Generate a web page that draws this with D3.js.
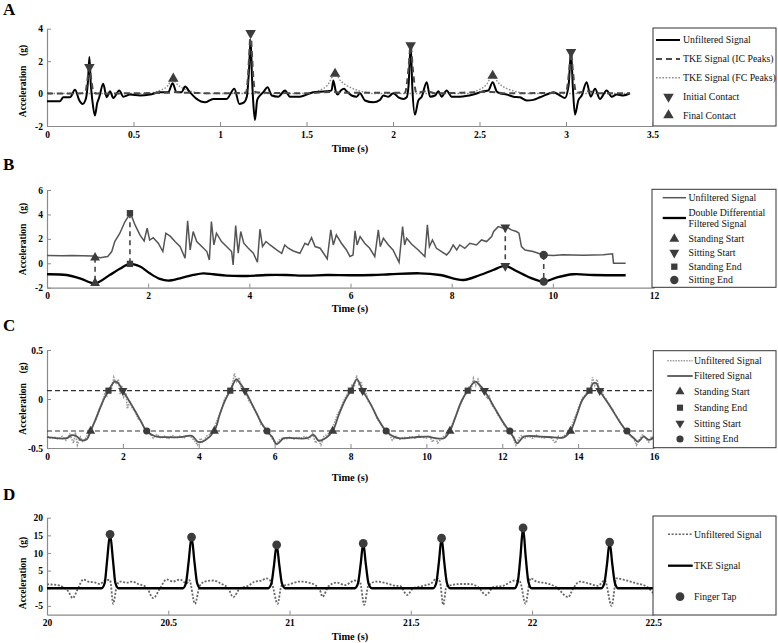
<!DOCTYPE html>
<html><head><meta charset="utf-8">
<script src="https://cdn.jsdelivr.net/npm/d3@7"></script>
<style>
body{margin:0;background:#fff;}
svg text{font-family:"Liberation Serif","Times New Roman","DejaVu Serif",serif !important;}
</style></head><body>
<svg id="c" width="778" height="643" font-family="Liberation Serif, Times New Roman, serif"></svg>
<script>
// ---------------- DATA ----------------
// Panel A
const aXTicks = [0,0.5,1,1.5,2,2.5,3,3.5];
const aYTicks = [-2,0,2,4];
const aUnfiltered = [[0.00,-0.47],[0.075,-0.47],[0.094,-0.23],[0.133,-0.23],[0.162,0.23],[0.187,-0.43],[0.206,-0.64],[0.225,-0.3],[0.237,0.8],[0.245,2.25],[0.253,0.6],[0.263,-0.5],[0.277,-1.36],[0.29,-0.6],[0.302,-0.23],[0.325,0.6],[0.345,-0.23],[0.364,0.14],[0.383,-0.27],[0.418,0.19],[0.441,-0.19],[0.480,-0.06],[0.538,-0.12],[0.595,-0.06],[0.653,0.08],[0.701,0.08],[0.726,0.64],[0.749,0.08],[0.778,0.08],[0.798,0.43],[0.826,0.08],[0.865,-0.33],[0.913,-0.54],[0.961,-0.33],[1.038,-0.33],[1.083,0.29],[1.112,-0.64],[1.139,-0.54],[1.155,-0.2],[1.168,1.5],[1.177,3.3],[1.185,1.0],[1.192,-0.5],[1.202,-1.63],[1.215,-0.4],[1.231,-0.12],[1.250,0.08],[1.275,0.39],[1.299,-0.12],[1.337,-0.19],[1.376,0.19],[1.404,-0.19],[1.462,-0.19],[1.539,0.08],[1.616,0.14],[1.645,0.2],[1.655,0.8],[1.67,0.1],[1.680,-0.06],[1.700,0.2],[1.717,0.29],[1.732,0.14],[1.761,-0.12],[1.790,-0.19],[1.809,0.02],[1.838,-0.43],[1.886,-0.54],[1.925,-0.39],[1.944,-0.12],[1.973,-0.19],[2.002,0.02],[2.031,-0.23],[2.060,-0.33],[2.079,-0.23],[2.090,0.5],[2.102,2.97],[2.112,0.3],[2.127,-1.3],[2.146,-0.43],[2.166,-0.19],[2.195,0.7],[2.214,-0.19],[2.243,-0.12],[2.262,0.14],[2.281,-0.19],[2.310,0.19],[2.339,-0.19],[2.387,-0.19],[2.464,-0.06],[2.522,0.14],[2.551,0.19],[2.576,0.7],[2.599,0.14],[2.618,0.02],[2.657,-0.06],[2.696,-0.19],[2.734,-0.23],[2.773,-0.43],[2.811,-0.39],[2.850,-0.23],[2.888,-0.06],[2.927,0.08],[2.965,-0.12],[2.994,-0.27],[3.015,0.5],[3.029,2.56],[3.04,0.3],[3.052,-1.3],[3.071,-0.43],[3.091,-0.12],[3.119,0.7],[3.143,-0.19],[3.168,0.29],[3.196,-0.33],[3.235,0.19],[3.264,-0.19],[3.293,-0.06],[3.331,-0.12],[3.370,0.02]];
const aTkeIC = [[0,0.02],[0.1,0.0],[0.2,0.02],[0.222,0.1],[0.232,0.7],[0.245,1.63],[0.258,0.7],[0.268,0.1],[0.29,0.0],[0.5,0.02],[0.7,0.05],[0.75,0.1],[0.8,0.05],[1.0,0.02],[1.15,0.05],[1.16,0.8],[1.168,2.2],[1.177,3.73],[1.186,2.2],[1.194,0.8],[1.205,0.1],[1.25,0.05],[1.5,0.02],[1.65,0.1],[1.7,0.05],[2.07,0.05],[2.08,0.6],[2.09,1.6],[2.102,2.97],[2.114,1.6],[2.124,0.6],[2.135,0.05],[2.19,0.15],[2.25,0.02],[2.57,0.1],[2.65,0.02],[3.0,0.05],[3.01,0.6],[3.019,1.5],[3.029,2.56],[3.039,1.5],[3.048,0.6],[3.06,0.05],[3.12,0.15],[3.2,0.02],[3.37,0.02]];
const aTkeFC = [[0,0],[0.58,0],[0.62,0.08],[0.66,0.22],[0.70,0.5],[0.726,0.92],[0.75,0.6],[0.79,0.3],[0.84,0.12],[0.9,0.02],[0.95,0],[1.50,0],[1.54,0.08],[1.58,0.22],[1.62,0.5],[1.665,1.2],[1.70,0.75],[1.74,0.45],[1.79,0.22],[1.84,0.08],[1.89,0],[2.42,0],[2.46,0.08],[2.50,0.25],[2.54,0.55],[2.576,1.1],[2.61,0.65],[2.65,0.35],[2.70,0.15],[2.75,0.04],[2.80,0],[3.37,0]];
const aInitialContact = [[0.245,1.63],[1.177,3.73],[2.102,2.97],[3.029,2.56]];
const aFinalContact = [[0.73,0.92],[1.665,1.22],[2.576,1.1]];

// Panel B
const bXTicks = [0,2,4,6,8,10,12];
const bYTicks = [-2,0,2,4,6];
const bUnfiltered = [[0,0.63],[0.3,0.62],[0.5,0.63],[0.7,0.61],[0.9,0.6],[1.05,0.46],[1.2,0.55],[1.28,0.96],[1.34,1.78],[1.44,2.46],[1.54,3.4],[1.65,4.1],[1.74,3.14],[1.84,2.3],[1.92,1.83],[1.98,2.87],[2.03,1.9],[2.10,2.1],[2.20,1.64],[2.29,0.96],[2.35,2.46],[2.44,2.2],[2.53,1.78],[2.63,1.37],[2.73,0.41],[2.78,3.47],[2.83,1.09],[2.89,2.6],[2.96,1.78],[3.06,1.37],[3.16,0.96],[3.21,0.27],[3.25,3.42],[3.30,1.5],[3.35,2.46],[3.45,1.78],[3.55,1.37],[3.65,0.96],[3.68,-0.14],[3.73,3.09],[3.78,0.82],[3.83,2.6],[3.89,1.64],[3.98,1.23],[4.08,0.82],[4.16,0.08],[4.21,2.79],[4.26,1.37],[4.33,1.78],[4.41,1.5],[4.54,1.09],[4.64,0.82],[4.70,1.5],[4.77,1.23],[4.87,1.01],[5.0,0.82],[5.1,1.64],[5.16,1.5],[5.23,2.1],[5.30,1.37],[5.40,1.23],[5.49,0.68],[5.54,0.36],[5.61,2.73],[5.66,1.5],[5.72,2.32],[5.82,1.64],[5.92,1.09],[5.99,0.55],[6.05,0.68],[6.09,2.65],[6.13,1.5],[6.19,2.19],[6.28,1.64],[6.38,1.23],[6.48,0.55],[6.55,2.73],[6.59,1.37],[6.65,2.05],[6.75,1.5],[6.84,1.09],[6.96,0.08],[7.03,3.0],[7.07,1.5],[7.11,2.05],[7.21,1.56],[7.34,1.09],[7.47,0.55],[7.52,3.14],[7.56,1.37],[7.62,1.91],[7.70,1.23],[7.80,0.96],[7.90,0.68],[7.96,0.96],[8.03,1.5],[8.10,1.09],[8.16,1.5],[8.26,1.23],[8.36,1.64],[8.49,1.5],[8.59,1.91],[8.69,1.78],[8.79,2.19],[8.83,2.6],[8.92,3.0],[9.02,2.87],[9.08,3.0],[9.18,2.73],[9.28,2.6],[9.33,2.46],[9.38,1.37],[9.45,1.09],[9.61,0.96],[9.81,0.68],[10.01,0.63],[10.2,0.7],[10.4,0.68],[10.6,0.66],[10.8,0.68],[11.0,0.7],[11.18,0.77],[11.2,0.0],[11.44,0.0]];
const bFiltered = [[0,-0.9],[0.39,-0.96],[0.65,-1.23],[0.95,-1.64],[1.24,-0.96],[1.44,-0.45],[1.64,-0.05],[1.84,-0.27],[2.03,-0.82],[2.23,-1.28],[2.4,-1.42],[2.63,-1.23],[2.89,-0.96],[3.09,-0.82],[3.29,-0.9],[3.55,-1.01],[3.95,-1.04],[4.34,-0.96],[4.74,-0.96],[5.13,-1.01],[5.53,-0.96],[5.99,-0.98],[6.45,-0.96],[6.78,-0.9],[7.37,-0.82],[7.77,-0.96],[8.23,-1.37],[8.56,-0.96],[8.82,-0.55],[9.06,-0.22],[9.28,-0.63],[9.55,-1.17],[9.82,-1.5],[10.07,-1.17],[10.4,-0.9],[10.8,-0.96],[11.44,-0.98]];
// [time, value on unfiltered, value on filtered]
const bStandingStart = [[0.95,0.45,-1.62]];
const bStandingEnd = [[1.64,4.1,-0.05]];
const bSittingStart = [[9.06,2.95,-0.22]];
const bSittingEnd = [[9.82,0.68,-1.5]];

// Panel C
const cXTicks = [0,2,4,6,8,10,12,14,16];
const cYTicks = [-0.5,0,0.5];
const cThresholds = [0.085,-0.327];
const cFiltered = [[0,-0.39],[0.52,-0.4],[0.65,-0.37],[0.78,-0.38],[0.9,-0.42],[1.05,-0.41],[1.15,-0.327],[1.31,-0.18],[1.49,-0.01],[1.62,0.085],[1.79,0.18],[1.88,0.16],[2.0,0.085],[2.23,-0.06],[2.45,-0.21],[2.63,-0.327],[2.85,-0.38],[3.16,-0.39],[3.51,-0.39],[3.82,-0.377],[3.99,-0.44],[4.17,-0.42],[4.41,-0.327],[4.56,-0.15],[4.70,-0.01],[4.83,0.085],[4.99,0.2],[5.09,0.16],[5.22,0.085],[5.44,-0.08],[5.66,-0.25],[5.80,-0.327],[5.93,-0.384],[6.06,-0.46],[6.24,-0.40],[6.5,-0.40],[6.85,-0.40],[7.03,-0.367],[7.16,-0.425],[7.34,-0.40],[7.53,-0.327],[7.69,-0.163],[7.86,-0.01],[8.01,0.085],[8.17,0.2],[8.32,0.085],[8.52,-0.044],[8.74,-0.214],[8.94,-0.327],[9.14,-0.384],[9.31,-0.401],[9.67,-0.391],[10.02,-0.384],[10.28,-0.401],[10.46,-0.401],[10.62,-0.327],[10.77,-0.18],[10.94,-0.01],[11.09,0.085],[11.29,0.177],[11.40,0.143],[11.53,0.085],[11.78,-0.078],[12.04,-0.248],[12.2,-0.334],[12.3,-0.391],[12.39,-0.452],[12.57,-0.384],[13.01,-0.384],[13.36,-0.391],[13.62,-0.391],[13.8,-0.327],[13.98,-0.146],[14.11,-0.01],[14.3,0.085],[14.4,0.16],[14.48,0.16],[14.57,0.085],[14.85,-0.078],[15.12,-0.248],[15.29,-0.334],[15.47,-0.401],[15.58,-0.435],[15.73,-0.384],[15.87,-0.418],[16.0,-0.391]];
const cUnfiltered = [[0,-0.38],[0.1,-0.4],[0.2,-0.39],[0.3,-0.41],[0.4,-0.38],[0.5,-0.42],[0.6,-0.36],[0.7,-0.45],[0.75,-0.34],[0.8,-0.47],[0.88,-0.39],[0.95,-0.44],[1.05,-0.38],[1.15,-0.33],[1.22,-0.26],[1.3,-0.2],[1.38,-0.1],[1.45,-0.05],[1.52,0.05],[1.58,0.03],[1.64,0.12],[1.7,0.1],[1.76,0.22],[1.82,0.15],[1.88,0.2],[1.93,0.05],[1.97,0.14],[2.02,0.02],[2.08,0.06],[2.12,-0.1],[2.18,-0.02],[2.25,-0.1],[2.32,-0.12],[2.4,-0.2],[2.48,-0.22],[2.56,-0.3],[2.64,-0.33],[2.72,-0.36],[2.8,-0.4],[2.9,-0.36],[3.0,-0.4],[3.1,-0.38],[3.2,-0.41],[3.3,-0.37],[3.4,-0.4],[3.5,-0.38],[3.6,-0.4],[3.7,-0.37],[3.8,-0.39],[3.9,-0.43],[3.97,-0.47],[4.05,-0.4],[4.12,-0.44],[4.2,-0.38],[4.3,-0.36],[4.4,-0.31],[4.48,-0.22],[4.55,-0.16],[4.62,-0.08],[4.68,0.0],[4.75,0.04],[4.82,0.1],[4.88,0.14],[4.94,0.26],[5.0,0.18],[5.06,0.22],[5.12,0.12],[5.18,0.1],[5.25,0.06],[5.32,-0.02],[5.4,-0.06],[5.48,-0.12],[5.56,-0.16],[5.64,-0.26],[5.72,-0.28],[5.8,-0.34],[5.88,-0.37],[5.96,-0.42],[6.04,-0.47],[6.12,-0.42],[6.2,-0.4],[6.3,-0.41],[6.4,-0.39],[6.5,-0.41],[6.6,-0.39],[6.7,-0.4],[6.8,-0.38],[6.9,-0.41],[7.0,-0.35],[7.08,-0.45],[7.15,-0.41],[7.22,-0.47],[7.3,-0.38],[7.4,-0.36],[7.5,-0.32],[7.58,-0.24],[7.66,-0.15],[7.74,-0.1],[7.82,-0.02],[7.9,0.04],[7.98,0.08],[8.04,0.14],[8.1,0.12],[8.16,0.24],[8.22,0.15],[8.28,0.18],[8.34,0.06],[8.4,0.08],[8.46,-0.02],[8.54,-0.06],[8.62,-0.12],[8.7,-0.2],[8.78,-0.24],[8.86,-0.3],[8.94,-0.33],[9.02,-0.35],[9.1,-0.42],[9.2,-0.38],[9.3,-0.41],[9.4,-0.39],[9.5,-0.4],[9.6,-0.38],[9.7,-0.4],[9.8,-0.37],[9.9,-0.39],[10.0,-0.4],[10.08,-0.37],[10.16,-0.44],[10.24,-0.39],[10.3,-0.45],[10.38,-0.41],[10.46,-0.38],[10.54,-0.36],[10.62,-0.32],[10.7,-0.24],[10.78,-0.17],[10.86,-0.08],[10.94,-0.02],[11.0,0.04],[11.06,0.06],[11.12,0.12],[11.18,0.1],[11.24,0.21],[11.3,0.14],[11.36,0.2],[11.42,0.12],[11.48,0.08],[11.54,0.1],[11.6,0.0],[11.66,0.03],[11.72,-0.06],[11.8,-0.1],[11.88,-0.16],[11.96,-0.2],[12.04,-0.26],[12.12,-0.3],[12.2,-0.33],[12.28,-0.39],[12.36,-0.47],[12.44,-0.4],[12.52,-0.37],[12.6,-0.4],[12.7,-0.38],[12.8,-0.4],[12.9,-0.37],[13.0,-0.39],[13.1,-0.4],[13.2,-0.38],[13.3,-0.4],[13.4,-0.45],[13.48,-0.38],[13.56,-0.4],[13.64,-0.37],[13.72,-0.35],[13.8,-0.32],[13.88,-0.22],[13.95,-0.16],[14.02,-0.08],[14.08,-0.02],[14.14,0.03],[14.2,0.04],[14.26,0.1],[14.32,0.08],[14.38,0.22],[14.44,0.14],[14.5,0.2],[14.56,0.08],[14.62,0.1],[14.68,0.02],[14.74,0.0],[14.82,-0.06],[14.9,-0.1],[14.98,-0.16],[15.06,-0.2],[15.14,-0.26],[15.22,-0.3],[15.3,-0.33],[15.38,-0.38],[15.46,-0.4],[15.54,-0.47],[15.62,-0.41],[15.7,-0.36],[15.78,-0.4],[15.86,-0.44],[15.94,-0.38],[16.0,-0.4]];
const cStandingStart = [1.15,4.41,7.53,10.62,13.8];
const cStandingEnd = [1.62,4.83,8.01,11.09,14.3];
const cSittingStart = [2.0,5.22,8.32,11.53,14.57];
const cSittingEnd = [2.63,5.80,8.94,12.2,15.29];

// Panel D
const dXTicks = [20,20.5,21,21.5,22,22.5];
const dYTicks = [-5,0,5,10,15,20];
const dTke = [[20,0],[20.225,0],[20.238,1.5],[20.248,8],[20.26,15.3],[20.272,8],[20.282,1.5],[20.295,0],[20.56,0],[20.573,1.5],[20.584,7.5],[20.596,14.5],[20.608,7.5],[20.619,1.5],[20.632,0],[20.912,0],[20.925,1.3],[20.936,6.5],[20.947,12.3],[20.958,6.5],[20.969,1.3],[20.982,0],[21.269,0],[21.282,1.3],[21.293,6.6],[21.304,12.7],[21.315,6.6],[21.326,1.3],[21.339,0],[21.592,0],[21.605,1.5],[21.616,7.4],[21.627,14.2],[21.638,7.4],[21.649,1.5],[21.662,0],[21.928,0],[21.941,1.8],[21.952,8.8],[21.963,17.1],[21.974,8.8],[21.985,1.8],[21.998,0],[22.285,0],[22.298,1.4],[22.309,6.8],[22.32,13.1],[22.331,6.8],[22.342,1.4],[22.355,0],[22.5,0]];
const dUnfiltered = [[20.0,1.1],[20.04,0.94],[20.067,0.3],[20.088,-0.9],[20.106,-2.8],[20.125,-0.5],[20.15,2.5],[20.17,1.9],[20.2,1.6],[20.218,1.2],[20.243,2.4],[20.26,2.3],[20.273,-4.4],[20.287,0.5],[20.3,1.9],[20.33,1.6],[20.35,1.9],[20.376,1.2],[20.41,0.3],[20.438,-2.8],[20.466,0.0],[20.493,2.5],[20.52,1.9],[20.548,2.5],[20.576,1.4],[20.587,2.3],[20.61,-4.4],[20.63,0.7],[20.651,1.9],[20.686,2.2],[20.72,1.2],[20.747,0.0],[20.768,-2.5],[20.796,0.0],[20.83,0.7],[20.857,1.9],[20.885,2.2],[20.905,2.8],[20.926,1.6],[20.951,-4.4],[20.967,0.7],[20.988,0.9],[21.043,1.9],[21.09,1.4],[21.125,-0.5],[21.136,-2.4],[21.16,0.5],[21.194,1.6],[21.228,0.9],[21.27,2.2],[21.29,1.9],[21.308,-4.7],[21.325,0.7],[21.359,1.9],[21.4,1.4],[21.44,0.7],[21.455,0.7],[21.485,-1.9],[21.51,0.0],[21.551,0.7],[21.585,1.4],[21.606,2.8],[21.62,1.9],[21.634,-4.7],[21.647,0.5],[21.668,0.9],[21.702,1.2],[21.744,1.2],[21.778,0.3],[21.81,-1.9],[21.84,0.3],[21.881,0.7],[21.929,2.2],[21.95,1.9],[21.973,-4.4],[21.994,2.8],[22.018,1.9],[22.06,1.4],[22.1,0.3],[22.149,-2.5],[22.17,0.0],[22.197,1.9],[22.231,1.4],[22.272,0.7],[22.3,2.3],[22.328,-5.0],[22.348,2.8],[22.389,2.2],[22.43,1.4],[22.472,0.5],[22.5,-1.4]];
const dFingerTap = [[20.26,15.3],[20.596,14.5],[20.947,12.3],[21.304,12.7],[21.627,14.2],[21.963,17.1],[22.32,13.1]];

// ---------------- DRAWING ----------------
const FONT = '"Liberation Serif","Times New Roman","DejaVu Serif",serif';
const svg = d3.select('#c');
const MC = '#3c3c3c';
const AX = '#8a8a8a';

function txt(sel){ return sel.attr('font-family',FONT).style('font-family',FONT); }

function makePanel(p){
  const x = d3.scaleLinear().domain(p.xd).range([p.x0,p.x1]);
  const y = d3.scaleLinear().domain(p.yd).range([p.yb,p.yt]);
  const g = svg.append('g');
  const gx = g.append('g').attr('transform',`translate(0,${p.yb})`)
    .call(d3.axisBottom(x).tickValues(p.xt).tickFormat(d=>String(d)).tickSizeInner(-4).tickSizeOuter(0).tickPadding(5));
  const gy = g.append('g').attr('transform',`translate(${p.x0},0)`)
    .call(d3.axisLeft(y).tickValues(p.yt2).tickFormat(d=>String(d)).tickSizeInner(-4).tickSizeOuter(0).tickPadding(4));
  [gx,gy].forEach(a=>{
    a.attr('font-family',FONT).attr('font-size',9.5);
    a.select('.domain').attr('stroke',AX).attr('stroke-width',1.2);
    a.selectAll('.tick line').attr('stroke',AX).attr('stroke-width',1);
    txt(a.selectAll('.tick text')).attr('fill','#000').attr('font-size',9.5).attr('font-weight','bold');
  });
  txt(svg.append('text')).attr('x',3).attr('y',p.letterY).attr('font-size',17).attr('font-weight','bold').text(p.letter);
  txt(svg.append('text')).attr('x',350).attr('y',p.timeY).attr('text-anchor','middle').attr('font-size',10.4).attr('font-weight','bold').text('Time (s)');
  txt(svg.append('text')).attr('transform',`translate(26,${p.accY}) rotate(-90)`).attr('text-anchor','middle')
    .attr('font-size',9.6).attr('font-weight','bold').style('white-space','pre').text('Acceleration    (g)');
  return {x,y,g};
}

function lineGen(x,y,curve){ return d3.line().x(d=>x(d[0])).y(d=>y(d[1])).curve(curve||d3.curveMonotoneX); }
function marker(g,kind,cx,cy,size){
  let t=d3.symbolTriangle, rot=0;
  if(kind==='down'){rot=180;}
  if(kind==='square') t=d3.symbolSquare;
  if(kind==='circle') t=d3.symbolCircle;
  g.append('path').attr('d',d3.symbol().type(t).size(size)()).attr('transform',`translate(${cx},${cy}) rotate(${rot})`).attr('fill',MC);
}
function legendBox(x0,y0,x1,y1){
  svg.append('rect').attr('x',x0).attr('y',y0).attr('width',x1-x0).attr('height',y1-y0).attr('fill','#fff').attr('stroke','#333').attr('stroke-width',1);
}
function legLine(xa,xb,yy,stroke,w,dash){
  const l = svg.append('line').attr('x1',xa).attr('x2',xb).attr('y1',yy).attr('y2',yy).attr('stroke',stroke).attr('stroke-width',w);
  if(dash) l.attr('stroke-dasharray',dash);
}
function legText(x,yy,t){
  txt(svg.append('text')).attr('x',x).attr('y',yy).attr('dy','0.35em').attr('font-size',9.8).attr('fill','#111').text(t);
}

// ----- Panel A -----
(function(){
  const P = makePanel({xd:[0,3.5],yd:[-2,4],x0:47,x1:652.5,yb:126,yt:28.7,xt:aXTicks,yt2:aYTicks,letter:'A',letterY:15,timeY:152,accY:81});
  const {x,y,g} = P;
  g.append('path').attr('d',lineGen(x,y)(aTkeFC)).attr('fill','none').attr('stroke','#8c8c8c').attr('stroke-width',1.4).attr('stroke-dasharray','1.6,1.6');
  g.append('path').attr('d',lineGen(x,y)(aUnfiltered)).attr('fill','none').attr('stroke','#000').attr('stroke-width',2);
  g.append('path').attr('d',lineGen(x,y)(aTkeIC)).attr('fill','none').attr('stroke','#4a4a4a').attr('stroke-width',2).attr('stroke-dasharray','6,4');
  aInitialContact.forEach(d=>marker(g,'down',x(d[0]),y(d[1]),48));
  aFinalContact.forEach(d=>marker(g,'up',x(d[0]),y(d[1]),48));
  legendBox(653,28,776,126);
  legLine(656,680,40,'#000',2); legText(683,40,'Unfiltered Signal');
  legLine(656,680,59,'#4a4a4a',2,'6,4'); legText(683,59,'TKE Signal (IC Peaks)');
  legLine(656,680,77.7,'#8c8c8c',1.4,'1.6,1.6'); legText(683,77.7,'TKE Signal (FC Peaks)');
  marker(svg,'down',668.5,96.7,48); legText(683,96.7,'Initial Contact');
  marker(svg,'up',668.5,115.3,48); legText(683,115.3,'Final Contact');
})();

// ----- Panel B -----
(function(){
  const P = makePanel({xd:[0,12],yd:[-2,6],x0:47,x1:654,yb:287.7,yt:190,xt:bXTicks,yt2:bYTicks,letter:'B',letterY:170,timeY:312,accY:239});
  const {x,y,g} = P;
  g.append('path').attr('d',lineGen(x,y,d3.curveLinear)(bUnfiltered)).attr('fill','none').attr('stroke','#555').attr('stroke-width',1.5);
  g.append('path').attr('d',lineGen(x,y,d3.curveCatmullRom)(bFiltered)).attr('fill','none').attr('stroke','#000').attr('stroke-width',2.3);
  const groups = [[bStandingStart,'up',42],[bStandingEnd,'square',40],[bSittingStart,'down',42],[bSittingEnd,'circle',55]];
  groups.forEach(([arr,kind,size])=>{
    arr.forEach(d=>{
      g.append('line').attr('x1',x(d[0])).attr('x2',x(d[0])).attr('y1',y(d[1])).attr('y2',y(d[2]))
        .attr('stroke','#444').attr('stroke-width',1.6).attr('stroke-dasharray','5,4');
      marker(g,kind,x(d[0]),y(d[1]),size);
      marker(g,kind,x(d[0]),y(d[2]),size);
    });
  });
  legendBox(652,189.3,776,287.3);
  legLine(662.7,686,197.7,'#555',1.5); legText(688.5,197.7,'Unfiltered Signal');
  legLine(662.7,686,218,'#000',2.3);
  legText(688.5,212.7,'Double Differential'); legText(688.5,223.5,'Filtered Signal');
  marker(svg,'up',674.3,239,42); legText(688.5,239,'Standing Start');
  marker(svg,'down',674.3,252.7,42); legText(688.5,252.7,'Sitting Start');
  marker(svg,'square',674.3,266.7,40); legText(688.5,266.7,'Standing End');
  marker(svg,'circle',674.3,280,55); legText(688.5,280,'Sitting End');
})();

// ----- Panel C -----
(function(){
  const P = makePanel({xd:[0,16],yd:[-0.5,0.5],x0:47,x1:654,yb:448,yt:350,xt:cXTicks,yt2:cYTicks,letter:'C',letterY:331,timeY:481,accY:398.5});
  const {x,y,g} = P;
  cThresholds.forEach(v=>{
    g.append('line').attr('x1',x(0)).attr('x2',x(16)).attr('y1',y(v)).attr('y2',y(v)).attr('stroke','#333').attr('stroke-width',1.1).attr('stroke-dasharray','5,3');
  });
  g.append('path').attr('d',lineGen(x,y,d3.curveLinear)(cUnfiltered)).attr('fill','none').attr('stroke','#9a9a9a').attr('stroke-width',1.6).attr('stroke-dasharray','1.5,1.2');
  g.append('path').attr('d',lineGen(x,y,d3.curveCatmullRom)(cFiltered)).attr('fill','none').attr('stroke','#555').attr('stroke-width',1.8);
  cStandingStart.forEach(t=>marker(g,'up',x(t),y(cThresholds[1]),36));
  cStandingEnd.forEach(t=>marker(g,'square',x(t),y(cThresholds[0]),38));
  cSittingStart.forEach(t=>marker(g,'down',x(t),y(cThresholds[0]),36));
  cSittingEnd.forEach(t=>marker(g,'circle',x(t),y(cThresholds[1]),40));
  legendBox(653.3,350.7,776,447.7);
  legLine(667.3,692.7,360.7,'#9a9a9a',1.4,'1.5,1.2'); legText(694,360.7,'Unfiltered Signal');
  legLine(667.3,692.7,376,'#555',1.8); legText(694,376,'Filtered Signal');
  marker(svg,'up',680,391.7,36); legText(694,391.7,'Standing Start');
  marker(svg,'square',680,407.7,38); legText(694,407.7,'Standing End');
  marker(svg,'down',680,423.3,36); legText(694,423.3,'Sitting Start');
  marker(svg,'circle',680,439,40); legText(694,439,'Sitting End');
})();

// ----- Panel D -----
(function(){
  const P = makePanel({xd:[20,22.5],yd:[-7.5,20],x0:47,x1:653.3,yb:614.7,yt:517.7,xt:dXTicks,yt2:dYTicks,letter:'D',letterY:500,timeY:640,accY:573});
  const {x,y,g} = P;
  g.append('path').attr('d',lineGen(x,y)(dUnfiltered)).attr('fill','none').attr('stroke','#666').attr('stroke-width',1.8).attr('stroke-dasharray','2,1.6');
  g.append('path').attr('d',lineGen(x,y)(dTke)).attr('fill','none').attr('stroke','#000').attr('stroke-width',2.3);
  dFingerTap.forEach(d=>marker(g,'circle',x(d[0]),y(d[1]),60));
  legendBox(653,516,776,615);
  legLine(668,692.7,534.3,'#666',1.6,'2,1.6'); legText(694,534.3,'Unfiltered Signal');
  legLine(668,692.7,565.7,'#000',2.3); legText(694,565.7,'TKE Signal');
  marker(svg,'circle',680,596.7,60); legText(694,596.7,'Finger Tap');
})();
</script>
</body></html>
